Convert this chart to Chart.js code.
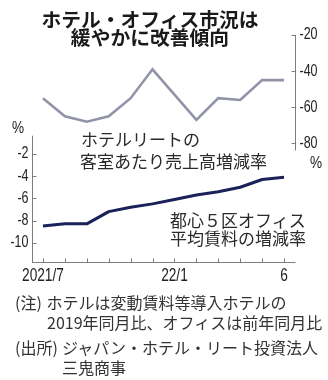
<!DOCTYPE html>
<html>
<head>
<meta charset="utf-8">
<script src="https://cdn.jsdelivr.net/npm/chart.js@4"></script>
<style>
  html, body { margin: 0; padding: 0; background: #fff; }
  #wrap { position: relative; width: 328px; height: 380px; overflow: hidden;
          font-family: "Noto Sans CJK JP", "Noto Sans", sans-serif; color: #222; }
  #c { position: absolute; left: 0; top: 0; }
  .t { position: absolute; white-space: nowrap; }
  .title { font-size: 19.8px; font-weight: bold; line-height: 20px; left: 0; width: 300px; text-align: center; color: #1a1a1a; }
  .lab { font-size: 17px; line-height: 20px; color: #2a2a2a; }
  .note { font-size: 16px; line-height: 20px; color: #333; left: 15px; }
  .pre { display: inline-block; }
</style>
</head>
<body>
<div id="wrap">
  <canvas id="c" width="328" height="380"></canvas>
  <div class="t title" style="top:9px;">ホテル・オフィス市況は</div>
  <div class="t title" style="top:27px;">緩やかに改善傾向</div>

  <div class="t lab" style="left:81px; top:129px;">ホテルリートの</div>
  <div class="t lab" style="left:80px; top:151px;">客室あたり売上高増減率</div>

  <div class="t lab" style="left:170px; top:210px;">都心５区オフィス</div>
  <div class="t lab" style="left:170px; top:228px;">平均賃料の増減率</div>

  <div class="t note" style="top:292px;"><span class="pre" style="width:31.5px;">(注)</span>ホテルは変動賃料等導入ホテルの</div>
  <div class="t note" style="top:312px; padding-left:32px;">2019年同月比、オフィスは前年同月比</div>
  <div class="t note" style="top:337px;"><span class="pre" style="width:47px;">(出所)</span>ジャパン・ホテル・リート投資法人</div>
  <div class="t note" style="top:357px; padding-left:47px;">三鬼商事</div>
</div>
<script>
// Months from July 2021 to June 2022
const months = ['2021/7', '8', '9', '10', '11', '12', '22/1', '2', '3', '4', '5', '6'];
const xTickLabels = ['2021/7', '', '', '', '', '', '22/1', '', '', '', '', '6'];

// Hotel REIT: revenue per room, change vs. same month of 2019 (%)
const hotelRevenueChange = [-55, -65, -68, -65, -55, -39, -53, -67, -55, -56, -45, -45];
// Central 5 wards offices: average rent, year-on-year change (%)
const officeRentChange = [-8.5, -8.3, -8.3, -7.2, -6.8, -6.5, -6.1, -5.7, -5.4, -5.0, -4.3, -4.1];

const hotelTicks = [-20, -40, -60, -80];
const officeTicks = [-2, -4, -6, -8, -10];

const NUM_FONT = '"Liberation Sans", Arial, sans-serif';

// Narrow numerals: horizontally condensed text
function narrowText(ctx, text, x, y, squeeze) {
  ctx.save();
  ctx.translate(x, y);
  ctx.scale(squeeze, 1);
  ctx.fillText(text, 0, 0);
  ctx.restore();
}

// Axes with inward tick marks, drawn from the chart's own scales
const insideAxes = {
  id: 'insideAxes',
  beforeDatasetsDraw(chart) {
    const { ctx, chartArea: a, scales } = chart;
    const x = scales.x, yH = scales.yH, yO = scales.yO;
    const rx = Math.round(a.right) + 0.5;
    const lx = Math.round(a.left) + 0.5;
    const by = Math.round(a.bottom) + 0.5;
    ctx.save();
    ctx.strokeStyle = '#7d7d7d';
    ctx.lineWidth = 1;
    ctx.beginPath();
    // right axis (hotel)
    ctx.moveTo(rx, Math.round(yH.getPixelForValue(-20)));
    ctx.lineTo(rx, yH.getPixelForValue(-84));
    hotelTicks.forEach(v => {
      const py = Math.round(yH.getPixelForValue(v)) + 0.5;
      ctx.moveTo(rx, py); ctx.lineTo(rx - 4, py);
    });
    // left axis (office)
    ctx.moveTo(lx, yO.getPixelForValue(-0.35));
    ctx.lineTo(lx, by);
    officeTicks.forEach(v => {
      const py = Math.round(yO.getPixelForValue(v)) + 0.5;
      ctx.moveTo(lx, py); ctx.lineTo(lx + 4, py);
    });
    // bottom axis
    ctx.moveTo(lx - 0.5, by);
    ctx.lineTo(rx, by);
    months.forEach((m, i) => {
      const px = Math.round(x.getPixelForValue(i)) + 0.5;
      ctx.moveTo(px, by); ctx.lineTo(px, by - 4);
    });
    ctx.stroke();

    ctx.fillStyle = '#222';
    ctx.textBaseline = 'middle';
    ctx.font = '16px ' + NUM_FONT;
    ctx.textAlign = 'left';
    hotelTicks.forEach(v => narrowText(ctx, String(v), rx + 4, yH.getPixelForValue(v), 0.78));
    ctx.textAlign = 'right';
    officeTicks.forEach(v => narrowText(ctx, String(v), lx - 4, yO.getPixelForValue(v), 0.78));

    ctx.font = '18.5px ' + NUM_FONT;
    ctx.textAlign = 'center';
    xTickLabels.forEach((lab, i) => {
      if (lab) narrowText(ctx, lab, x.getPixelForValue(i), by + 13, 0.74);
    });

    // unit labels
    ctx.font = '16px ' + NUM_FONT;
    ctx.textAlign = 'center';
    narrowText(ctx, '%', 316, 164, 0.85);
    narrowText(ctx, '%', 18, 129, 0.85);
    ctx.restore();
  }
};

new Chart(document.getElementById('c'), {
  type: 'line',
  data: {
    labels: months,
    datasets: [
      {
        label: 'ホテルリートの客室あたり売上高増減率',
        data: hotelRevenueChange,
        yAxisID: 'yH',
        borderColor: '#9193a8',
        borderWidth: 2.6,
        pointRadius: 0,
        tension: 0,
        borderJoinStyle: 'miter'
      },
      {
        label: '都心５区オフィス平均賃料の増減率',
        data: officeRentChange,
        yAxisID: 'yO',
        borderColor: '#1b2159',
        borderWidth: 3,
        pointRadius: 0,
        tension: 0,
        borderJoinStyle: 'round'
      }
    ]
  },
  options: {
    responsive: false,
    animation: false,
    events: [],
    layout: { padding: { left: 32, right: 33, top: 35, bottom: 118 } },
    plugins: { legend: { display: false }, tooltip: { enabled: false } },
    scales: {
      x: { type: 'category', offset: true, display: false },
      yH: { type: 'linear', position: 'right', min: -145.76, max: -20, display: false },
      yO: { type: 'linear', position: 'left', min: -11.74, max: 8.73, display: false }
    }
  },
  plugins: [insideAxes]
});
</script>
</body>
</html>
